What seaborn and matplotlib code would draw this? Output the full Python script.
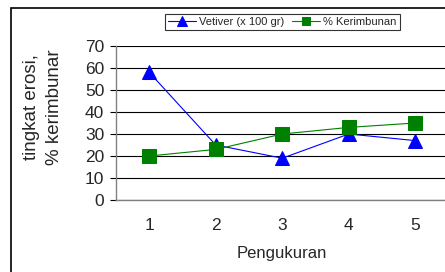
import matplotlib
matplotlib.use('Agg')
import matplotlib.pyplot as plt
import seaborn as sns
import pandas as pd
from matplotlib.patches import Rectangle

sns.set_theme(style='white')
plt.rcParams['font.family'] = ['Liberation Sans', 'DejaVu Sans']

# data
pengukuran = [1, 2, 3, 4, 5]
vetiver = [58, 25, 19, 30, 27]
kerimbunan = [20, 23, 30, 33, 35]

df = pd.DataFrame({'x': pengukuran, 'vetiver': vetiver, 'kerimbunan': kerimbunan})

fig = plt.figure(figsize=(4.45, 2.72), dpi=100)
ax = fig.add_axes([116 / 445, 72 / 272, 332.5 / 445, 154 / 272])

# outer chart border (clipped on the right and bottom like the original)
fig.patches.append(Rectangle((11 / 445, -0.1), 1.0, 264 / 272 + 0.1,
                             transform=fig.transFigure, fill=False,
                             edgecolor='black', linewidth=1.2))

sns.lineplot(data=df, x='x', y='vetiver', ax=ax, color='#0000ff', marker='^',
             markersize=10.5, markeredgecolor='#0000ff', linewidth=0.8,
             label='Vetiver (x 100 gr)')
sns.lineplot(data=df, x='x', y='kerimbunan', ax=ax, color='#008000', marker='s',
             markersize=9.5, markeredgecolor='#008000', linewidth=0.8,
             label='% Kerimbunan')

ax.set_xlim(0.5, 5.5)
ax.set_ylim(0, 70)
ax.set_yticks(range(0, 71, 10))
ax.set_xticks(pengukuran)
ax.set_xticks([0.5, 1.5, 2.5, 3.5, 4.5, 5.5], minor=True)
ax.tick_params(axis='x', which='major', length=0, labelsize=12.5, pad=13)
ax.tick_params(axis='x', which='minor', length=4, width=0.8, color='black', direction='out')
ax.tick_params(axis='y', length=4.5, width=0.8, color='black', direction='out',
               labelsize=12.5, pad=4, left=True)
ax.grid(axis='y', color='black', linewidth=0.8)
ax.set_axisbelow(True)
for s in ['top', 'right']:
    ax.spines[s].set_visible(False)
for s in ['left', 'bottom']:
    ax.spines[s].set_color('#808080')
    ax.spines[s].set_linewidth(1.0)

ax.set_xlabel('Pengukuran', fontsize=12, labelpad=9)
ax.set_ylabel('')
fig.text(43 / 445, 1 - 107 / 272, 'tingkat erosi,\n% kerimbunar', rotation=90,
         ha='center', va='center', fontsize=13.5, linespacing=1.45)

handles, labels = ax.get_legend_handles_labels()
ax.legend_.remove()
leg = fig.legend(handles, labels, loc='center', bbox_to_anchor=(282.5 / 445, 1 - 22 / 272),
                 ncol=2, fontsize=8, frameon=True, fancybox=False, edgecolor='black',
                 handlelength=2.5, handletextpad=0.3, columnspacing=0.7,
                 borderpad=0.3, markerscale=0.65)
leg.get_frame().set_linewidth(0.8)

fig.savefig('out.png', dpi=100)
